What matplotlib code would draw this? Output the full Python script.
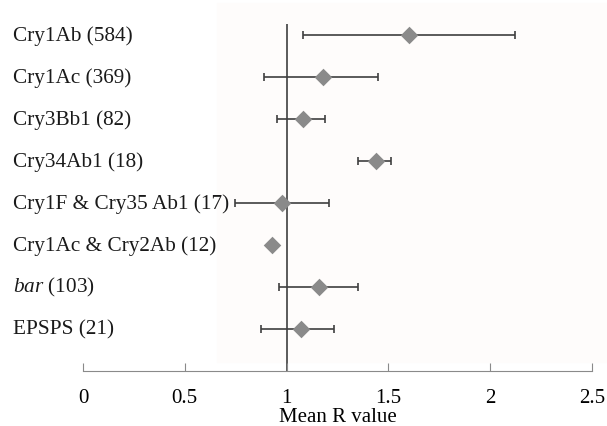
import matplotlib
matplotlib.use('Agg')
import matplotlib.pyplot as plt
import matplotlib.transforms as mtransforms
from matplotlib.patches import Rectangle

plt.rcParams['font.family'] = 'Liberation Serif'
plt.rcParams['mathtext.fontset'] = 'custom'
plt.rcParams['mathtext.rm'] = 'Liberation Serif'
plt.rcParams['mathtext.it'] = 'Liberation Serif:italic'

labels = ['Cry1Ab (584)', 'Cry1Ac (369)', 'Cry3Bb1 (82)', 'Cry34Ab1 (18)',
          'Cry1F & Cry35 Ab1 (17)', 'Cry1Ac & Cry2Ab (12)', '$bar$ (103)', 'EPSPS (21)']
means = [1.60, 1.18, 1.08, 1.44, 0.975, 0.93, 1.16, 1.07]
lower = [1.08, 0.89, 0.955, 1.35, 0.745, 0.93, 0.965, 0.875]
upper = [2.12, 1.45, 1.19, 1.515, 1.21, 0.93, 1.35, 1.235]

ypos = list(range(len(labels) - 1, -1, -1))
err_lo = [m - l for m, l in zip(means, lower)]
err_hi = [u - m for m, u in zip(means, upper)]

fig = plt.figure(figsize=(6.07, 4.27), dpi=100)
fig.patches.append(Rectangle((217 / 607, 0.15), 1 - 217 / 607, 0.84,
                             transform=fig.transFigure, color='#fefcfb', zorder=-10))
ax = fig.add_axes([83 / 607, 1 - 372 / 427, (592 - 83) / 607, (372 - 25) / 427])
ax.set_facecolor('none')

ax.errorbar(means, ypos, xerr=[err_lo, err_hi], fmt='none', ecolor='#3f3f3f',
            elinewidth=1.2, capsize=3, capthick=1.2, zorder=2)
ax.scatter(means, ypos, marker='D', s=80, color='#8a8a8a', zorder=3, linewidths=0)
ax.axvline(1, color='#3f3f3f', lw=1.2, zorder=1)

ax.set_xlim(0, 2.5)
ax.set_ylim(-1, 7.26)
ax.set_xticks([0, 0.5, 1, 1.5, 2, 2.5])
ax.set_xticklabels(['0', '0.5', '1', '1.5', '2', '2.5'], fontsize=15)
ax.tick_params(axis='x', direction='in', length=6, color='#8a8a8a', pad=12)
ax.set_yticks([])
for s in ['top', 'right', 'left']:
    ax.spines[s].set_visible(False)
ax.spines['bottom'].set_color('#8a8a8a')
ax.set_xlabel('Mean R value', fontsize=15, labelpad=0)

trans = mtransforms.blended_transform_factory(fig.transFigure, ax.transData)
for lab, y in zip(labels, ypos):
    ax.text(13 / 607, y, lab, transform=trans, fontsize=15.3, va='center', ha='left',
            color='#1a1a1a')

fig.savefig('out.png', dpi=100)
